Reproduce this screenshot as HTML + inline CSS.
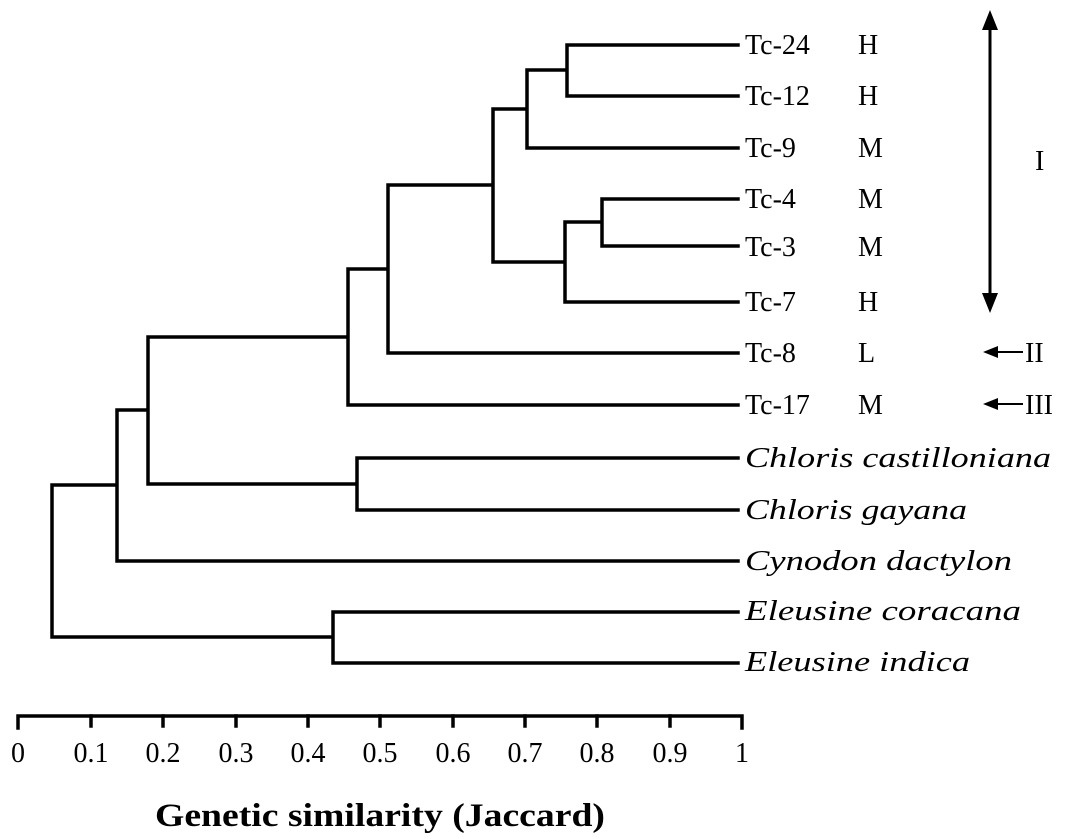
<!DOCTYPE html><html><head><style>body{margin:0;background:#fff}</style></head><body>
<svg width="1083" height="834" xmlns="http://www.w3.org/2000/svg" font-family="'Liberation Serif',serif" font-size="28">
<g stroke="#000" stroke-width="3.5" fill="none" stroke-linecap="square">
<path d="M738,45H567V96H738M567,70H527V148H738M738,199H602V246H738M602,222H565V302H738M527,109H493V262H565M493,185H388V353H738M388,269H348V405H738M738,458H357V510H738M348,337H148V484H357M148,410H117V561H738M738,612H333V663H738M333,637H52V485H117"/>
<path d="M18,728V716H742V728"/>
<path d="M91,716V726M163,716V726M236,716V726M308,716V726M380,716V726M453,716V726M525,716V726M597,716V726M670,716V726"/>
<path d="M990,25V298" stroke-width="3"/>
<path d="M997,352H1022M997,404H1022" stroke-width="2"/>
</g>
<polygon points="990,10 982,30 998,30" fill="#000"/>
<polygon points="990,313 982,293 998,293" fill="#000"/>
<polygon points="983,352 998,346 998,358" fill="#000"/>
<polygon points="983,404 998,398 998,410" fill="#000"/>
<g>
<text x="745" y="54">Tc-24</text><text x="858" y="54">H</text>
<text x="745" y="105">Tc-12</text><text x="858" y="105">H</text>
<text x="745" y="157">Tc-9</text><text x="858" y="157">M</text>
<text x="745" y="208">Tc-4</text><text x="858" y="208">M</text>
<text x="745" y="256">Tc-3</text><text x="858" y="256">M</text>
<text x="745" y="311">Tc-7</text><text x="858" y="311">H</text>
<text x="745" y="362">Tc-8</text><text x="858" y="362">L</text>
<text x="745" y="414">Tc-17</text><text x="858" y="414">M</text>
<text x="1035" y="170">I</text>
<text x="1025" y="362">II</text>
<text x="1025" y="414">III</text>
</g>
<g font-style="italic">
<text x="745" y="467" textLength="306" lengthAdjust="spacingAndGlyphs">Chloris castilloniana</text>
<text x="745" y="519" textLength="222" lengthAdjust="spacingAndGlyphs">Chloris gayana</text>
<text x="745" y="570" textLength="267" lengthAdjust="spacingAndGlyphs">Cynodon dactylon</text>
<text x="745" y="620" textLength="276" lengthAdjust="spacingAndGlyphs">Eleusine coracana</text>
<text x="745" y="671" textLength="225" lengthAdjust="spacingAndGlyphs">Eleusine indica</text>
</g>
<g text-anchor="middle">
<text x="18" y="762">0</text><text x="91" y="762">0.1</text><text x="163" y="762">0.2</text><text x="236" y="762">0.3</text><text x="308" y="762">0.4</text><text x="380" y="762">0.5</text><text x="453" y="762">0.6</text><text x="525" y="762">0.7</text><text x="597" y="762">0.8</text><text x="670" y="762">0.9</text><text x="742" y="762">1</text>
<text x="380" y="826" font-weight="bold" font-size="33" textLength="450" lengthAdjust="spacingAndGlyphs">Genetic similarity (Jaccard)</text>
</g>
</svg></body></html>
